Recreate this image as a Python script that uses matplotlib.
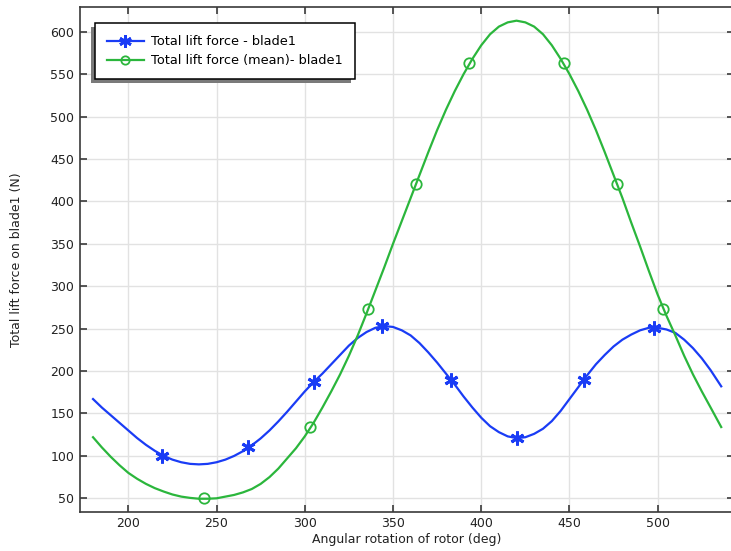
import matplotlib
matplotlib.use("Agg")
import matplotlib.pyplot as plt
from matplotlib.lines import Line2D
from matplotlib.patches import Rectangle

# angle (deg) and lift force (N)
angle = [180, 185, 190, 195, 200, 205, 210, 215, 220, 225, 230, 235, 240,
         245, 250, 255, 260, 265, 270, 275, 280, 285, 290, 295, 300, 305,
         310, 315, 320, 325, 330, 335, 340, 345, 350, 355, 360, 365, 370,
         375, 380, 385, 390, 395, 400, 405, 410, 415, 420, 425, 430, 435,
         440, 445, 450, 455, 460, 465, 470, 475, 480, 485, 490, 495, 500,
         505, 510, 515, 520, 525, 530, 536]
lift = [167, 157, 148, 139, 130, 121, 113, 106, 100, 95.6, 92.5, 90.6, 90,
        90.6, 92.5, 95.6, 100, 105.6, 112.5, 120.6, 130, 140.6, 152, 164, 176, 187,
        197, 208, 219, 230, 239, 246, 251, 253, 252, 248, 242, 233, 222,
        210, 197, 184, 170, 157, 145, 135, 128, 123, 121, 122, 126, 132,
        141, 153, 167, 181, 195, 208, 219, 229, 237, 243, 248, 251, 251,
        249, 245, 237, 227, 215, 201, 182]
lift_mean = [122, 110, 99, 89, 80, 73, 67, 62, 58, 54.5, 52, 50.5, 49.5,
             49.5, 50, 52, 54, 57, 61, 67, 75, 85, 97, 109, 123, 139,
             157, 176, 196, 218, 242, 268, 295, 322, 350, 377, 404, 431, 458,
             484, 508, 530, 550, 568, 584, 597, 606, 611, 613, 611, 606, 597,
             584, 568, 550, 530, 508, 484, 458, 431, 404, 375, 347, 318, 290,
             265, 242, 218, 196, 176, 157, 134]

# marker positions
mk_angle = [219, 268, 305, 344, 383, 420, 458, 498]
mk_lift = [100, 111, 187, 253, 189, 121, 190, 251]
mk_angle_mean = [243, 303, 336, 363, 393, 447, 477, 503]
mk_lift_mean = [50, 134, 273, 420, 563, 563, 420, 273]

blue = '#1a3cf5'
green = '#2bb63c'
dark = '#3a3a3a'

plt.rcParams['font.family'] = 'DejaVu Sans'
plt.rcParams['font.size'] = 9

fig = plt.figure(figsize=(7.31, 5.51), dpi=100)
ax = fig.add_axes([0.1094, 0.0713, 1.004 - 0.1094, 0.9868 - 0.0713])

ax.plot(angle, lift, color=blue, lw=1.6, zorder=3)
ax.plot(angle, lift_mean, color=green, lw=1.6, zorder=3)
ax.plot(mk_angle, mk_lift, ls='none', marker=(6, 2, 0), ms=10, mew=2.1,
        color=blue, zorder=4)
ax.plot(mk_angle_mean, mk_lift_mean, ls='none', marker='o', ms=7.5, mew=1.3,
        mfc='none', mec=green, zorder=4)

ax.set_xlim(172.6, 543.2)
ax.set_ylim(34.2, 628.8)
ax.set_xticks(range(200, 501, 50))
ax.set_yticks(range(50, 601, 50))
ax.grid(True, color='#e2e2e2', lw=1.0)
ax.set_axisbelow(True)

for side in ['left', 'bottom', 'top']:
    ax.spines[side].set_color(dark)
    ax.spines[side].set_linewidth(1.2)
ax.spines['right'].set_visible(False)
ax.tick_params(direction='in', length=5, width=1.2, color=dark,
               top=True, right=True, labelcolor='#222222', pad=4)

ax.set_xlabel('Angular rotation of rotor (deg)', labelpad=2, color='#222222')
ax.set_ylabel('Total lift force on blade1 (N)', labelpad=20, color='#222222')

handles = [
    Line2D([], [], color=blue, lw=1.6, marker=(6, 2, 0), ms=9, mew=2),
    Line2D([], [], color=green, lw=1.6, marker='o', ms=6, mew=1.3,
           mfc='none'),
]
leg = ax.legend(handles, ['Total lift force - blade1',
                          'Total lift force (mean)- blade1'],
                loc='upper left', bbox_to_anchor=(0.023, 0.968),
                borderaxespad=0, fancybox=False, edgecolor='black',
                framealpha=1, borderpad=0.9, handlelength=2.9,
                handletextpad=0.55, labelspacing=0.5, fontsize=9.3)
leg.get_frame().set_linewidth(1.1)
leg.set_zorder(6)

# grey drop shadow to the lower left of the legend box
fig.canvas.draw()
bb = leg.get_frame().get_window_extent().transformed(ax.transAxes.inverted())
dx = 4 / (ax.bbox.width)
dy = 4 / (ax.bbox.height)
ax.add_patch(Rectangle((bb.x0 - dx, bb.y0 - dy), bb.width, bb.height,
                       transform=ax.transAxes, facecolor='#7a7a7a',
                       edgecolor='none', zorder=5.5, clip_on=False))

fig.savefig('out.png', dpi=100)
